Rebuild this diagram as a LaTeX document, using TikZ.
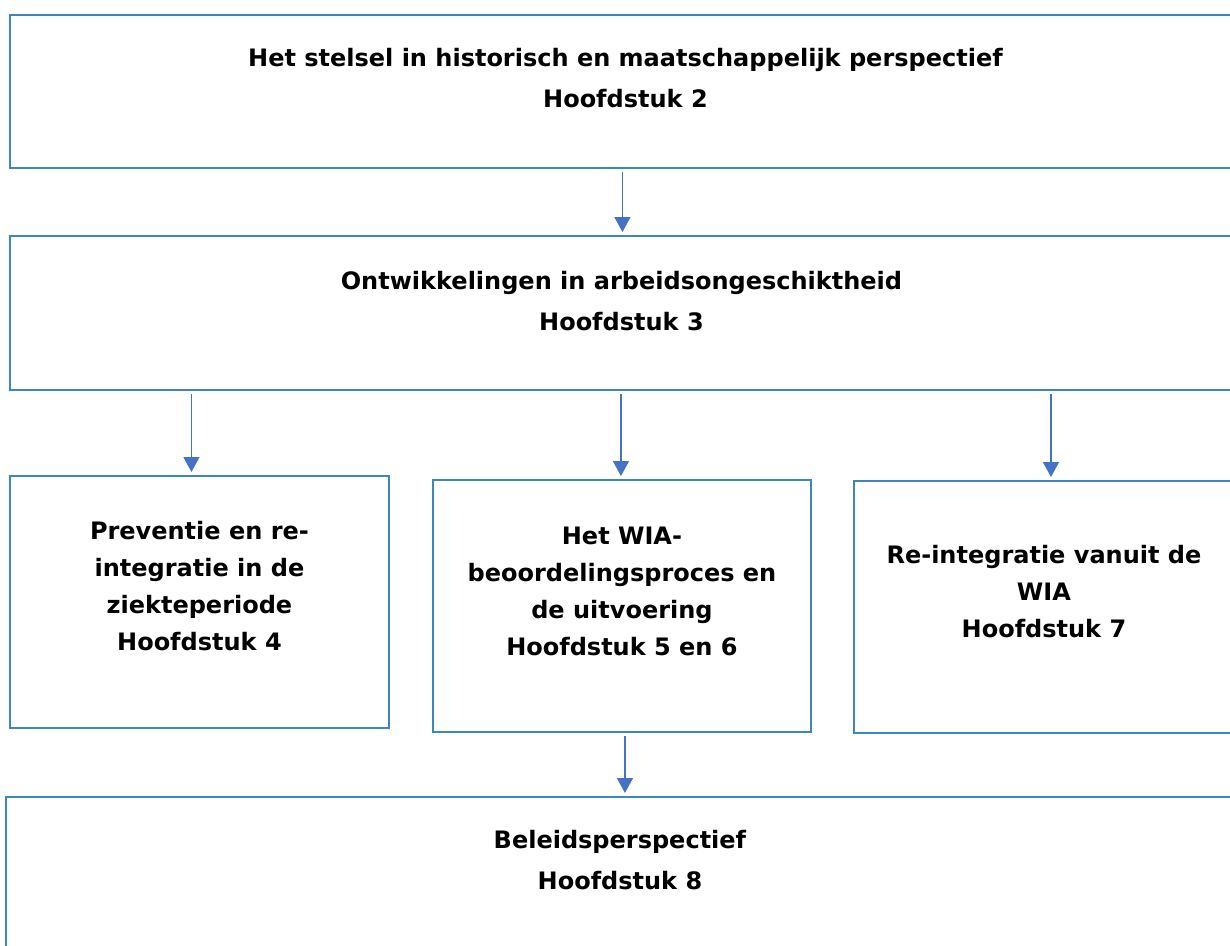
\documentclass[tikz,border=0pt]{standalone}
\usepackage{fontspec}
\setmainfont{DejaVu Sans}
\usetikzlibrary{positioning,arrows.meta}
\definecolor{kaderblauw}{HTML}{3C87BC}
\definecolor{pijlblauw}{HTML}{4472C4}

\begin{document}
\begin{tikzpicture}
	[	x=1pt,y=-1pt,
	kader/.style={rectangle,draw=kaderblauw,line width=1.9pt,anchor=north west,inner sep=0pt},
	tekst/.style={align=center,inner sep=0pt,font=\fontsize{24}{37}\selectfont\bfseries},
	pijl/.style={draw=pijlblauw,line width=1.5pt,-{Triangle[length=15pt,width=16pt]},shorten <=3pt,shorten >=3pt}
	]
	\useasboundingbox (0,0) rectangle (1230,945);
	\clip (0,0) rectangle (1230,945);
	\node[kader,minimum width=1231pt,minimum height=153pt] (k1) at (9,14){};
	\node[kader,minimum width=1223pt,minimum height=154pt] (k2) at (9,235){};
	\node[kader,minimum width=379pt,minimum height=252pt] (k4) at (9,475){};
	\node[kader,minimum width=378pt,minimum height=252pt] (k5) at (432,479){};
	\node[kader,minimum width=380pt,minimum height=252pt] (k6) at (853,480){};
	\node[kader,minimum width=1228pt,minimum height=170pt] (k8) at (5,796){};
\node[tekst,below=34pt of k1.north] (t1){Het stelsel in historisch en maatschappelijk perspectief\\[4pt]Hoofdstuk 2};
\node[tekst,below=36pt of k2.north] (t2){Ontwikkelingen in arbeidsongeschiktheid\\[4pt]Hoofdstuk 3};
\node[tekst,below=46pt of k4.north] (t4){Preventie en re-\\integratie in de\\ziekteperiode\\Hoofdstuk 4};
\node[tekst,below=48pt of k5.north] (t5){Het WIA-\\beoordelingsproces en\\de uitvoering\\Hoofdstuk 5 en 6};
\node[tekst,below=65pt of k6.north] (t6){Re-integratie vanuit de\\WIA\\Hoofdstuk 7};
\node[tekst,below=34pt of k8.north] (t8){Beleidsperspectief\\[4pt]Hoofdstuk 8};
	\draw[pijl] ([xshift=-3pt]k1.south) -- ([xshift=-3pt]k1.south |- k2.north);
	\draw[pijl] ([xshift=-8pt]k4.north |- k2.south) -- ([xshift=-8pt]k4.north);
	\draw[pijl] ([xshift=-1pt]k5.north |- k2.south) -- ([xshift=-1pt]k5.north);
	\draw[pijl] ([xshift=7pt]k6.north |- k2.south) -- ([xshift=7pt]k6.north);
	\draw[pijl] ([xshift=3pt]k5.south) -- ([xshift=3pt]k5.south |- k8.north);
\end{tikzpicture}
\end{document}
